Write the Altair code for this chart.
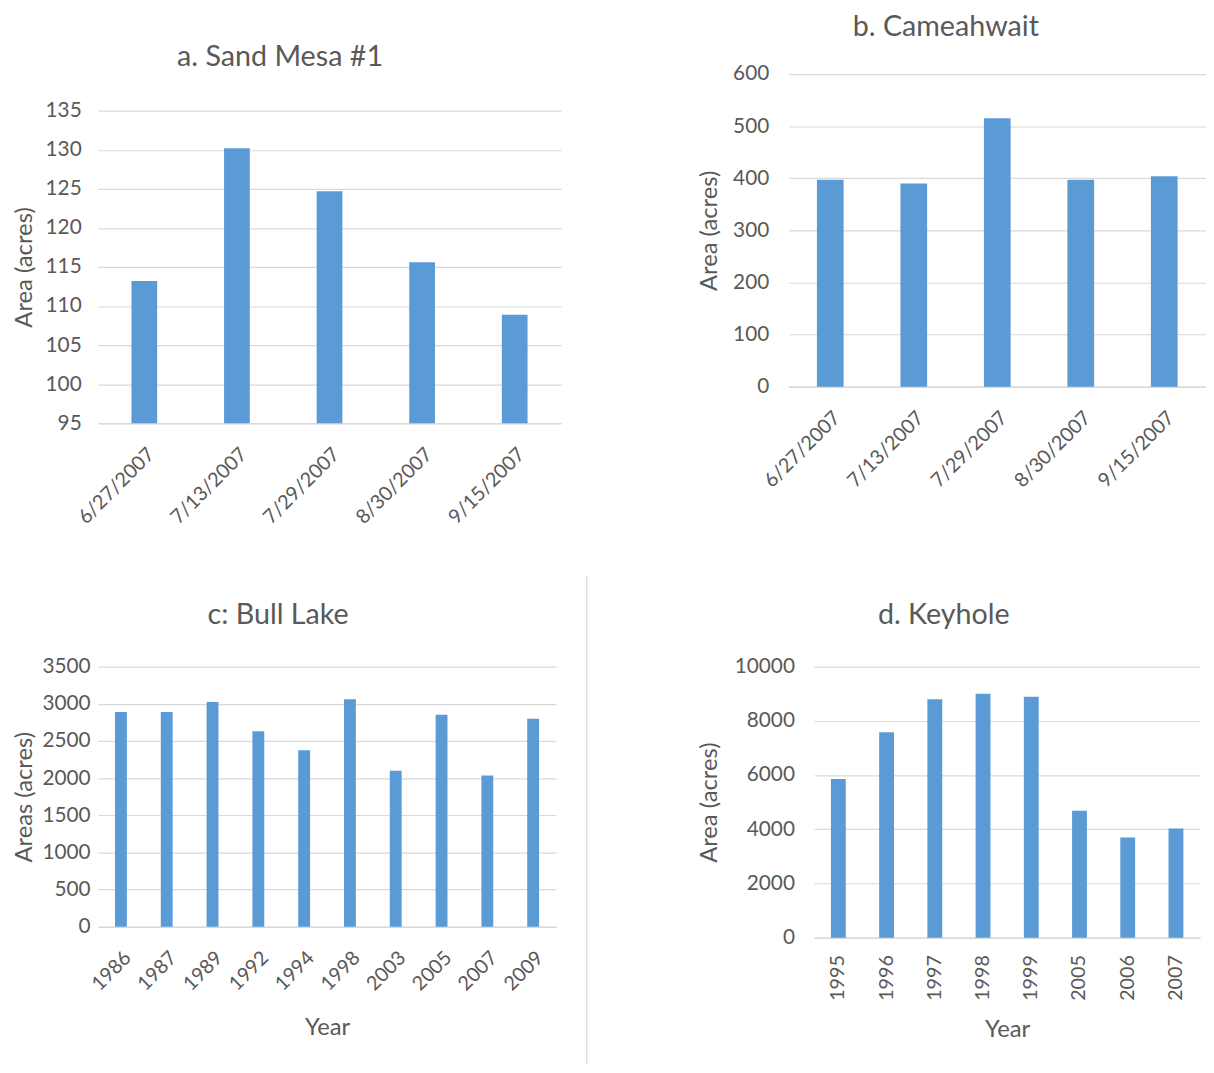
import altair as alt
import pandas as pd

# ---- data ----
dates = ["6/27/2007", "7/13/2007", "7/29/2007", "8/30/2007", "9/15/2007"]
sand_mesa = [113.2, 130.2, 124.7, 115.6, 108.9]
cameahwait = [397, 390, 515, 397, 404]

bull_years = ["1986", "1987", "1989", "1992", "1994", "1998", "2003", "2005", "2007", "2009"]
bull_lake = [2890, 2890, 3025, 2632, 2375, 3062, 2100, 2853, 2034, 2800]

key_years = ["1995", "1996", "1997", "1998", "1999", "2005", "2006", "2007"]
keyhole = [5850, 7575, 8800, 8995, 8885, 4685, 3700, 4030]

sand_ticks = [95, 100, 105, 110, 115, 120, 125, 130, 135]
cam_ticks = [0, 100, 200, 300, 400, 500, 600]
bull_ticks = [0, 500, 1000, 1500, 2000, 2500, 3000, 3500]
key_ticks = [0, 2000, 4000, 6000, 8000, 10000]

BAR = "#5B9BD5"
TXT = "#595959"
GRID = "#d9d9d9"
FONT = "Lato"


def panel(cats, vals, ticks, ytitle, xtitle, w, h, barsize, angle, xlpad, lpad_y, tpad_y,
          ttl, title_x, top=0, title_y=-52, xlabsize=20, xtpad=14, extra=None):
    df = pd.DataFrame({"cat": cats, "val": vals})
    xaxis = alt.Axis(
        labelAngle=angle, labelFontSize=xlabsize, labelFont=FONT, labelColor=TXT,
        domain=True, domainColor=GRID, domainWidth=1.5, ticks=False, grid=False,
        labelPadding=xlpad, title=xtitle, titleFont=FONT, titleFontSize=24,
        titleColor=TXT, titleFontWeight="normal", titlePadding=xtpad,
    )
    yaxis = alt.Axis(
        values=ticks, format="d", labelFontSize=21, labelFont=FONT, labelColor=TXT,
        domain=False, ticks=False, grid=True, gridColor=GRID, gridWidth=1.2,
        labelPadding=lpad_y, title=ytitle, titleFont=FONT, titleFontSize=24,
        titleColor=TXT, titleFontWeight="normal", titlePadding=tpad_y,
    )
    bars = alt.Chart(df).mark_bar(size=barsize, color=BAR).encode(
        x=alt.X("cat:N", sort=cats, axis=xaxis, scale=alt.Scale(paddingInner=0, paddingOuter=0)),
        y=alt.Y("val:Q", axis=yaxis,
                scale=alt.Scale(domain=[ticks[0], ticks[-1]], nice=False, zero=False,
                                range=[h, top])),
        y2=alt.datum(ticks[0]),
    )
    ttl_text = alt.Chart(pd.DataFrame({"t": [ttl]})).mark_text(
        font=FONT, fontSize=29, color=TXT, align="center", baseline="middle"
    ).encode(text="t:N", x=alt.value(title_x), y=alt.value(title_y))
    layers = [bars, ttl_text]
    if extra is not None:
        layers.append(extra)
    return alt.layer(*layers).properties(width=w, height=h)


# panel a sits 38px lower than panel b inside the same row
a = panel(dates, sand_mesa, sand_ticks, "Area (acres)", None, 468, 353, 26, -45, 21, 17, 9,
          "a. Sand Mesa #1", 184, top=37, title_y=-17)
b = panel(dates, cameahwait, cam_ticks, "Area (acres)", None, 422, 316, 27, -45, 21, 20, 11,
          "b. Cameahwait", 159, title_y=-47)

sep = alt.Chart(pd.DataFrame({"k": [0]})).mark_rule(color=GRID, strokeWidth=1.2).encode(
    x=alt.value(494), y=alt.value(-92), y2=alt.value(402)
)
c = panel(bull_years, bull_lake, bull_ticks, "Areas (acres)", "Year", 463, 263, 12, -45, 21, 8, 6,
          "c: Bull Lake", 182, xlabsize=20, xtpad=22, extra=sep)
d = panel(key_years, keyhole, key_ticks, "Area (acres)", "Year", 390, 274, 15, -90, 17, 20, 13,
          "d. Keyhole", 131, xlabsize=20, xtpad=18)

top_row = alt.hconcat(a, b, spacing=138)
bottom_row = alt.hconcat(c, d, spacing=111)

chart = alt.vconcat(top_row, bottom_row, spacing=47).properties(
    padding={"left": 4, "top": 0, "right": 0, "bottom": 0}, background="white"
).configure_view(strokeWidth=0)

chart.save("out.html", embed_options={"renderer": "svg", "actions": False})
